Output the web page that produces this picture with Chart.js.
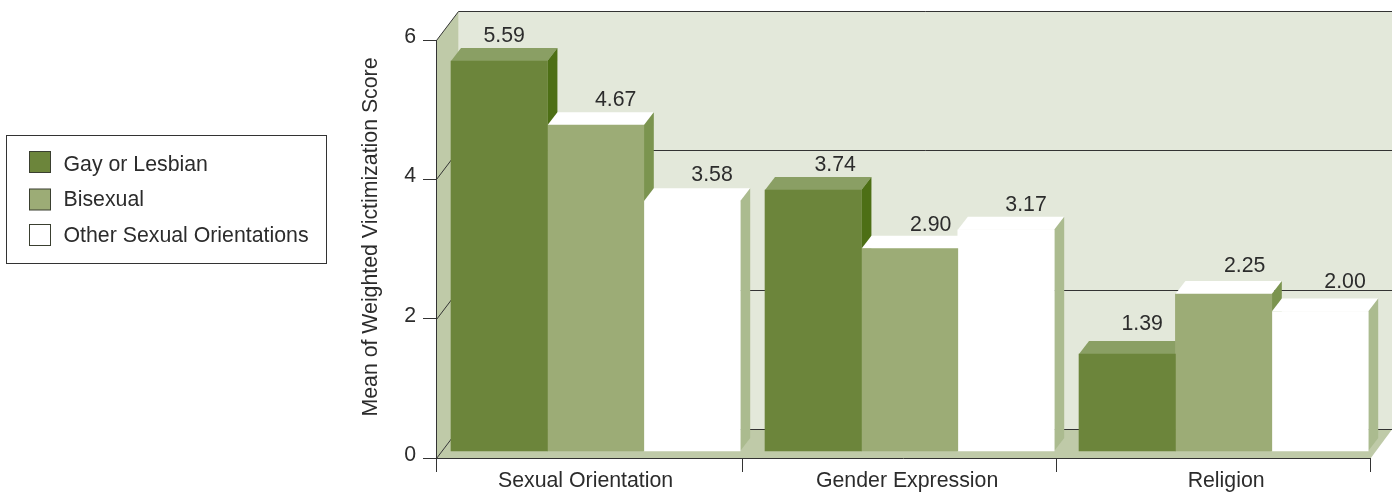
<!DOCTYPE html>
<html>
<head>
<meta charset="utf-8">
<style>
html,body{margin:0;padding:0;background:#fff;}
canvas{display:block;}
</style>
<script src="https://cdn.jsdelivr.net/npm/chart.js@4"></script>
</head>
<body>
<canvas id="c" width="1394" height="493"></canvas>
<script>
const categories = ["Sexual Orientation", "Gender Expression", "Religion"];
const seriesNames = ["Gay or Lesbian", "Bisexual", "Other Sexual Orientations"];
const gayLesbian = [5.59, 3.74, 1.39];
const bisexual = [4.67, 2.90, 2.25];
const otherOrientations = [3.58, 3.17, 2.00];
const yTicks = [0, 2, 4, 6];
const yTitle = "Mean of Weighted Victimization Score";

const FONT = '"Liberation Sans", Arial, Helvetica, sans-serif';
const TEXT = '#2c2c2c', LINE = '#333333';
const WALL_DX = 22, WALL_DY = -29, BAR_DX = 10, BAR_DY = -13, RIGHT_EXT = 1392;
const X_MIN = -0.5083, X_MAX = 2.4662;
// where the tick marks between groups and the group captions sit on the x scale
const xBoundaries = [X_MIN, 0.468, 1.468, X_MAX];
const xCaptionAt = [-0.032, 0.992, 2.008];
const styles = [
  {front:'#6c853b', top:'#8a9f64', side:'#4d6f15'},
  {front:'#9cac76', top:'#ffffff', side:'#7b944f'},
  {front:'#ffffff', top:'#ffffff', side:'#abbb8f'}
];
// label nudges relative to each bar's front-top centre: [series][category]
const labelDX = [[5,22,15],[20,21,21],[20,20,25]];
const labelDY = [[-26,-26,-31],[-26,-25,-29],[-27,-26,-30]];

function poly(ctx, pts, fill){
  ctx.beginPath();
  pts.forEach((p,i)=> i ? ctx.lineTo(p[0],p[1]) : ctx.moveTo(p[0],p[1]));
  ctx.closePath();
  ctx.fillStyle = fill;
  ctx.fill();
}
function seg(ctx,x1,y1,x2,y2){
  ctx.beginPath();ctx.moveTo(x1,y1);ctx.lineTo(x2,y2);ctx.stroke();
}

const threeD = {
  id:'threeD',
  beforeDraw(chart){
    const {ctx, chartArea:a, scales:{y}} = chart;
    const L=a.left+.5, B=a.bottom+.5, T=a.top+.5;
    ctx.save();
    poly(ctx,[[L+WALL_DX,T+WALL_DY],[RIGHT_EXT,T+WALL_DY],[RIGHT_EXT,B+WALL_DY],[L+WALL_DX,B+WALL_DY]],'#e3e8da');
    poly(ctx,[[L,T],[L+WALL_DX,T+WALL_DY],[L+WALL_DX,B+WALL_DY],[L,B]],'#bfcaa8');
    poly(ctx,[[L,B],[L+WALL_DX,B+WALL_DY],[RIGHT_EXT,B+WALL_DY],[a.right+.5,B]],'#bfcaa8');
    ctx.strokeStyle=LINE;ctx.lineWidth=1;
    yTicks.forEach(v=>{
      const py=Math.round(y.getPixelForValue(v))+.5;
      seg(ctx,L,py,L+WALL_DX,py+WALL_DY);
      seg(ctx,L+WALL_DX,py+WALL_DY,RIGHT_EXT,py+WALL_DY);
    });
    ctx.restore();
  },
  beforeDatasetsDraw(chart){
    const {ctx} = chart;
    ctx.save();
    categories.forEach((c,i)=>{
      chart.data.datasets.forEach((d,j)=>{
        const b=chart.getDatasetMeta(j).data[i];
        const l=b.x-b.width/2, r=b.x+b.width/2, t=b.y, bot=b.base, s=styles[j];
        poly(ctx,[[l,t],[l+BAR_DX,t+BAR_DY],[r+BAR_DX,t+BAR_DY],[r,t]],s.top);
        poly(ctx,[[r,t],[r+BAR_DX,t+BAR_DY],[r+BAR_DX,bot+BAR_DY],[r,bot]],s.side);
      });
    });
    ctx.restore();
  },
  afterDatasetsDraw(chart){
    const {ctx} = chart;
    ctx.save();
    ctx.font='21.3px '+FONT;ctx.fillStyle=TEXT;ctx.textAlign='center';ctx.textBaseline='middle';
    chart.data.datasets.forEach((d,j)=>{
      chart.getDatasetMeta(j).data.forEach((b,i)=>{
        ctx.fillText(d.data[i].y.toFixed(2), b.x+labelDX[j][i], b.y+labelDY[j][i]+1);
      });
    });
    // axis title
    ctx.save();
    ctx.translate(371,237);ctx.rotate(-Math.PI/2);
    ctx.fillText(yTitle,0,0);
    ctx.restore();
    // legend
    ctx.strokeStyle=LINE;ctx.lineWidth=1;
    ctx.strokeRect(6.5,135.5,320,128);
    const swY=[151,188.5,224], txY=[165.5,200.5,236.5];
    seriesNames.forEach((n,j)=>{
      ctx.fillStyle=styles[j].front;
      ctx.fillRect(29.5,swY[j]+.5,21,21);
      ctx.strokeStyle='#3a3f30';
      ctx.strokeRect(29.5,swY[j]+.5,21,21);
      ctx.fillStyle=TEXT;ctx.textAlign='left';
      ctx.fillText(n,63.5,txY[j]);
    });
    ctx.restore();
  }
};

const xTickValues = [xBoundaries[0],xCaptionAt[0],xBoundaries[1],xCaptionAt[1],xBoundaries[2],xCaptionAt[2],xBoundaries[3]];

new Chart(document.getElementById('c'),{
  type:'bar',
  data:{
    labels:categories,
    datasets:[gayLesbian,bisexual,otherOrientations].map((vals,j)=>({
      label:seriesNames[j],
      data:categories.map((c,i)=>({x:i,y:vals[i]})),
      backgroundColor:styles[j].front,
      borderWidth:0,
      xAxisID:'x',yAxisID:'yb',
      barThickness:96.4,
      clip:false
    }))
  },
  options:{
    responsive:false,animation:false,
    layout:{padding:{left:300,right:24,top:40,bottom:0}},
    plugins:{legend:{display:false},tooltip:{enabled:false},title:{display:false}},
    scales:{
      x:{type:'linear',position:'bottom',min:X_MIN,max:X_MAX,offset:false,
        afterBuildTicks(s){s.ticks=xTickValues.map(v=>({value:v}));},
        grid:{offset:false,drawOnChartArea:false,drawTicks:true,tickLength:14,
          tickColor:c=>xCaptionAt.includes(c.tick&&c.tick.value)?'rgba(0,0,0,0)':LINE,lineWidth:1},
        border:{display:true,color:LINE,width:1},
        ticks:{color:TEXT,font:{family:FONT,size:21.3},padding:-4,maxRotation:0,minRotation:0,autoSkip:false,
          callback(v){const k=xCaptionAt.indexOf(v);return k>=0?categories[k]:'';}},
        afterFit(s){s.height=35;}
      },
      y:{type:'linear',position:'left',min:0,max:6,
        grid:{drawOnChartArea:false,drawTicks:true,tickLength:13,color:LINE,lineWidth:1},
        border:{display:true,color:LINE,width:1},
        ticks:{stepSize:2,color:TEXT,font:{family:FONT,size:21.3},padding:7,labelOffset:-3},
        afterFit(s){s.width=136;}
      },
      yb:{type:'linear',display:false,min:-0.1003,max:5.8908,grid:{display:false}}
    }
  },
  plugins:[threeD]
});
</script>
</body>
</html>
